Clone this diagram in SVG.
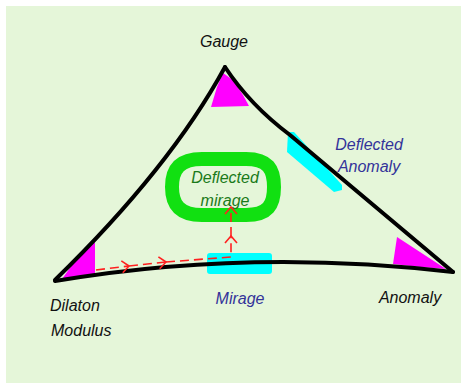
<svg xmlns="http://www.w3.org/2000/svg" width="464" height="384" viewBox="0 0 464 384">
<defs>
<style>
.lbl{font-family:"Liberation Sans","DejaVu Sans",sans-serif;font-style:italic;font-size:16px}
.blk{fill:#111}
.blu{fill:#33339a}
.grn{fill:#1a7a1a}
.mag{fill:#ff00ff}
.edge{stroke:#000;stroke-width:4;fill:none;stroke-linecap:round;stroke-linejoin:round}
.red{stroke:#ff2020;stroke-width:1.6;fill:none;stroke-dasharray:9 5}
</style>
<marker id="chev" markerWidth="14" markerHeight="14" refX="8" refY="7" orient="auto" markerUnits="userSpaceOnUse">
<path d="M1,1 L8,7 L1,13" stroke="#ff2020" stroke-width="1.6" fill="none"/>
</marker>
</defs>
<rect x="0" y="0" width="464" height="384" fill="#fff"/>
<rect x="6" y="6" width="455" height="377" fill="#e5f6d9"/>

<g id="highlights">
<path class="mag" d="M223,73 L233,80 L243,95 L249,106 L211,107 L217,87 Z"/>
<path class="mag" d="M95,242 L95,274 L62,279 L72,265 L84,252 Z"/>
<path class="mag" d="M397,237 L420,252 L446,269 L420,267 L393,264 Z"/>
<path fill="#00ffff" d="M288,132 L294,132 L342,185 L342,190 L334,192 L287,152 Z"/>
<rect x="207" y="253" width="65" height="21" rx="3" fill="#00ffff"/>
</g>

<g id="triangle">
<path class="edge" d="M225,67 Q170,168 55,280"/>
<path class="edge" d="M225,67 Q250,105 290,135 L453,272"/>
<path class="edge" d="M55,281 Q250,248 453,272"/>
</g>

<g id="deflected-mirage">
<path d="M202,159 L246,159 C268,159 274,169 274,187 C274,205 268,215 246,215 L202,215 C180,215 172,205 172,187 C172,169 180,159 202,159 Z" fill="none" stroke="#11e011" stroke-width="14"/>
<text class="lbl grn" x="225" y="183" text-anchor="middle" font-size="18">Deflected</text>
<text class="lbl grn" x="225" y="206" text-anchor="middle" font-size="18">mirage</text>
</g>

<g id="gauge"><text class="lbl blk" x="224" y="47" text-anchor="middle" font-size="19">Gauge</text></g>
<g id="deflected-anomaly">
<text class="lbl blu" x="369" y="150" text-anchor="middle" font-size="17">Deflected</text>
<text class="lbl blu" x="369" y="172" text-anchor="middle" font-size="17">Anomaly</text>
</g>
<g id="mirage"><text class="lbl blu" x="240" y="304" text-anchor="middle" font-size="18">Mirage</text></g>
<g id="anomaly"><text class="lbl blk" x="410" y="303" text-anchor="middle" font-size="17">Anomaly</text></g>
<g id="dilaton">
<text class="lbl blk" x="50" y="311" font-size="17">Dilaton</text>
<text class="lbl blk" x="51" y="336">Modulus</text>
</g>

<g id="connectors">
<path class="red" d="M96,270 L129,266" marker-end="url(#chev)"/>
<path class="red" d="M129,266 L166,262" marker-end="url(#chev)"/>
<path class="red" d="M166,262 L231,257 L231,236" marker-end="url(#chev)"/>
<path class="red" d="M231,236 L231,207" marker-end="url(#chev)"/>
</g>
</svg>
